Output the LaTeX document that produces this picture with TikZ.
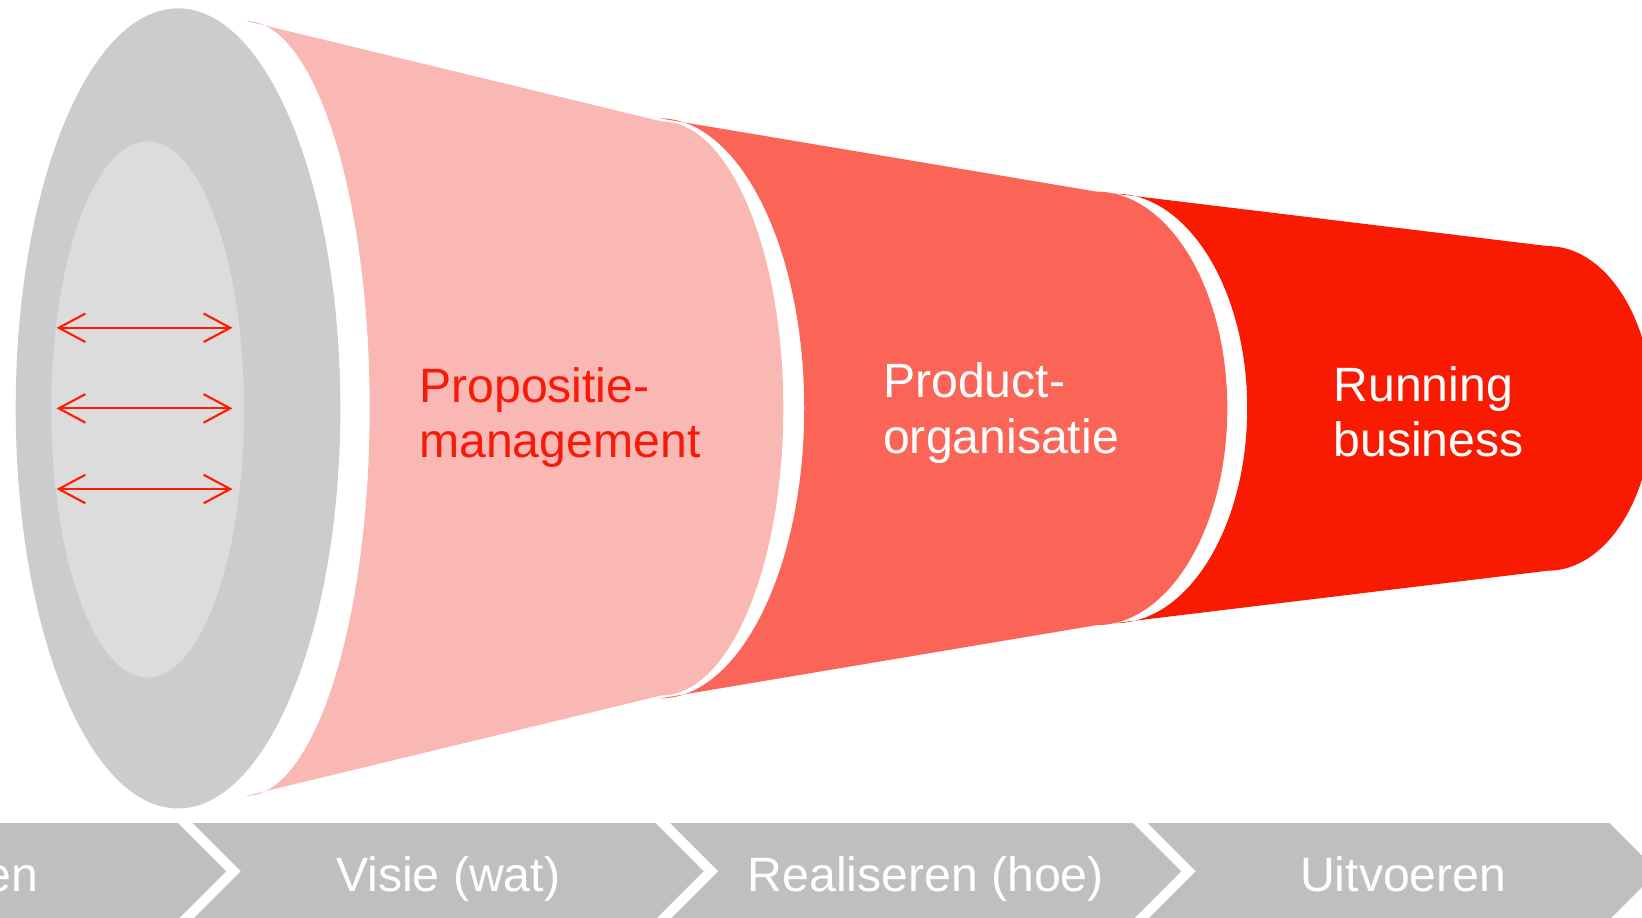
\documentclass[tikz,border=0pt]{standalone}
\usepackage{fontspec}
\setmainfont{Liberation Sans}
\usetikzlibrary{arrows.meta}
\definecolor{ringout}{HTML}{CCCCCC}
\definecolor{ringin}{HTML}{DCDCDC}
\definecolor{pinkc}{HTML}{F9B8B4}
\definecolor{salmonc}{HTML}{FB6557}
\definecolor{redc}{HTML}{F91A02}
\definecolor{chevc}{HTML}{BFBFBF}
\definecolor{arrc}{HTML}{FF1A00}
\definecolor{labred}{HTML}{F81A08}
\tikzset{
  bigtext/.style={font=\fontsize{23}{26.5}\selectfont, inner sep=0pt, align=left},
  chevtext/.style={font=\fontsize{23}{26.5}\selectfont, inner sep=0pt, text=white},
  dblarrow/.style={draw=arrc, line width=1pt,
    {Straight Barb[length=12.7pt,width=13.6pt]}-{Straight Barb[length=12.7pt,width=13.6pt]}},
  chevshape/.style={fill=chevc}
}
\begin{document}
\begin{tikzpicture}[x=0.5pt,y=-0.5pt]
\clip (0,0) rectangle (1568,876);
\fill[white] (0,0) rectangle (1568,876);

% grey ring
\fill[ringout] (170,390) ellipse [x radius=155, y radius=382];
\fill[ringin] (141,391) ellipse [x radius=92, y radius=256];

% arrows
\coordinate (a1l) at (54,313); \coordinate (a1r) at (222,313);
\coordinate (a2l) at (54,390); \coordinate (a2r) at (222,390);
\coordinate (a3l) at (54,467); \coordinate (a3r) at (222,467);
\draw[dblarrow] (a1l) -- (a1r);
\draw[dblarrow] (a2l) -- (a2r);
\draw[dblarrow] (a3l) -- (a3r);

% pink section
\fill[pinkc] (235,20) -- (632,116)
  arc[start angle=-90, end angle=90, x radius=116, y radius=274]
  -- (235,760)
  arc[start angle=90, end angle=-90, x radius=118, y radius=370] -- cycle;

% salmon section
\fill[salmonc] (630,113) -- (1047,183)
  arc[start angle=-90, end angle=90, x radius=125, y radius=207]
  -- (630,667)
  arc[start angle=90, end angle=-90, x radius=138, y radius=277] -- cycle;

% red section
\fill[redc] (1065,185) -- (1478,235)
  arc[start angle=-90, end angle=90, x radius=100, y radius=155]
  -- (1065,595)
  arc[start angle=90, end angle=-90, x radius=126, y radius=205] -- cycle;

% labels (base anchor = last line)
\node[bigtext, text=labred, anchor=base west] (prop) at (400,437) {Propositie-\\management};
\node[bigtext, text=white, anchor=base west] (prod) at (843,433) {Product-\\organisatie};
\node[bigtext, text=white, anchor=base west] (run) at (1273,436) {Running\\business};

% chevrons
\fill[chevshape] (-272,786) -- (170,786) -- (216,832) -- (170,878) -- (-272,878) -- cycle;
\fill[chevshape] (184,786) -- (626,786) -- (672,832) -- (626,878) -- (184,878) -- (230,832) -- cycle;
\fill[chevshape] (640,786) -- (1082,786) -- (1128,832) -- (1082,878) -- (640,878) -- (686,832) -- cycle;
\fill[chevshape] (1096,786) -- (1537,786) -- (1583,832) -- (1537,878) -- (1096,878) -- (1142,832) -- cycle;

\node[chevtext, anchor=base east] (c1) at (37,851) {en};
\node[chevtext, anchor=base] (c2) at (428,851) {Visie (wat)};
\node[chevtext, anchor=base] (c3) at (884,851) {Realiseren (hoe)};
\node[chevtext, anchor=base] (c4) at (1340,851) {Uitvoeren};
\end{tikzpicture}
\end{document}
